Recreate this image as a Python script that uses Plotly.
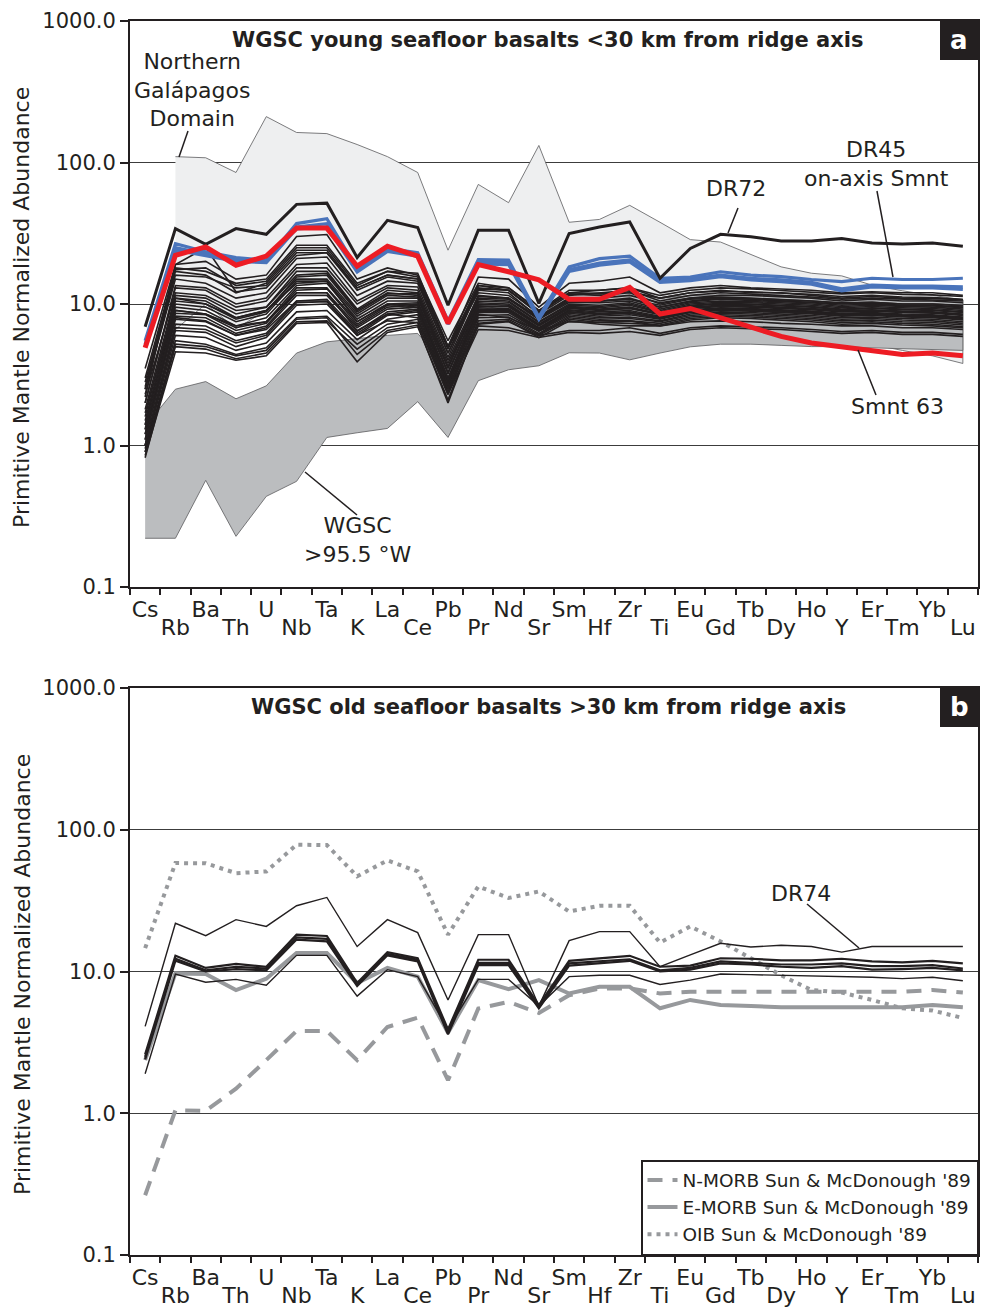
import plotly.graph_objects as go

# ---------------------------------------------------------------------------
# Element order of the spider diagram (incompatible -> compatible)
# ---------------------------------------------------------------------------
elements = ["Cs", "Rb", "Ba", "Th", "U", "Nb", "Ta", "K", "La", "Ce", "Pb", "Pr", "Nd", "Sr",
            "Sm", "Hf", "Zr", "Ti", "Eu", "Gd", "Tb", "Dy", "Ho", "Y", "Er", "Tm", "Yb", "Lu"]

y_tickvals = [0.1, 1, 10, 100, 1000]
y_ticktext = ["0.1", "1.0", "10.0", "100.0", "1000.0"]

# ---------------------------------------------------------------------------
# (a) young seafloor, primitive-mantle normalised
# ---------------------------------------------------------------------------
# Northern Galapagos Domain field (Rb .. Lu)
ngd_upper = [110, 108, 85, 211, 163, 160, 134, 110, 85, 24, 70, 52, 132, 37.8, 39.6, 49.8, 37.8,
             28.5, 27.4, 22.4, 18.3, 16.5, 15.8, 13.6, 12.4, 11.5, 10.7]
ngd_lower = [6.6, 10, 6.7, 9, 14, 14, 8, 10, 9, 4, 8, 8, 7, 8, 8, 8, 7.5,
             8, 8, 7.8, 7.5, 7.2, 5.7, 5.2, 4.7, 4.3, 3.8]

# WGSC > 95.5 W field (Cs .. Lu)
wgsc_w_upper = [1.36, 2.5, 2.83, 2.14, 2.64, 4.5, 5.4, 5.7, 6.0, 6.2, 3.5, 9, 10, 8, 12, 12, 12, 11,
                11.5, 11.6, 11.5, 11.4, 11.2, 11, 11, 10.9, 10.8, 10.7]
wgsc_w_lower = [0.221, 0.221, 0.567, 0.228, 0.437, 0.558, 1.14, 1.23, 1.32, 2.04, 1.14, 2.87, 3.43,
                3.66, 4.52, 4.5, 4.03, 4.5, 4.98, 5.2, 5.2, 5.1, 5.0, 5.0, 4.9, 4.8, 4.75, 4.7]

# individual young-seafloor samples
ysb01 = [3.5, 19, 20, 15, 16, 30, 31, 15, 18, 16, 5.5, 14, 13, 9, 12, 12.5, 13, 11, 12, 12.5, 12, 12, 11.5, 11, 11.3, 11, 11, 10.7]
ysb02 = [3.0, 18, 17, 14, 15, 26, 26, 14, 17, 15.5, 5, 13.5, 12.5, 8.5, 11.5, 12, 12.5, 10.5, 11.5, 12, 11.8, 11.5, 11.2, 10.8, 11, 10.8, 10.7, 10.5]
ysb03 = [2.8, 17, 16, 12, 14, 24, 24, 13, 16, 15, 4.8, 13, 12.5, 8.8, 11.8, 11.5, 12, 10, 11, 11.5, 11.5, 11.3, 11, 10.5, 10.8, 10.5, 10.5, 10.2]
ysb04 = [2.5, 16, 15.5, 13, 13.5, 23, 23, 12.5, 15.5, 14.5, 4.5, 12.5, 12, 8, 11, 11, 11.5, 10.2, 11, 11.2, 11, 10.8, 10.5, 10.2, 10.3, 10, 10, 9.8]
ysb05 = [2.2, 19, 25, 12.2, 13, 22, 23, 13, 16, 15, 5, 12, 11.5, 8.2, 11, 10.5, 11, 9.5, 10.5, 11, 10.8, 10.5, 10.3, 10, 10.1, 9.8, 9.8, 9.5]
ysb06 = [2.0, 13, 12.5, 9.5, 10.5, 18, 18, 10, 13, 12.5, 4, 11.5, 11, 8, 10.5, 10.5, 10.8, 9.5, 10.4, 10.8, 10.6, 10.4, 10.2, 9.8, 10, 9.7, 9.7, 9.4]
ysb07 = [2.3, 12, 11.5, 9, 9.5, 17, 17, 9.2, 12.5, 12, 3.8, 11, 10.8, 7.8, 10.3, 10.2, 10.5, 9.2, 10.2, 10.5, 10.4, 10.2, 10, 9.6, 9.8, 9.6, 9.5, 9.2]
ysb08 = [1.8, 11.5, 11, 8.5, 9.5, 16, 16.5, 9, 12, 11.5, 3.6, 10.8, 10.5, 7.5, 10, 9.8, 10.2, 9, 10, 10.3, 10.2, 10, 9.8, 9.4, 9.6, 9.4, 9.3, 9]
ysb09 = [1.6, 11, 10.5, 8, 9, 15, 15, 8.5, 11.5, 11.2, 3.5, 10.5, 10.3, 7.4, 9.8, 9.6, 10, 8.8, 9.8, 10.1, 10, 9.8, 9.6, 9.2, 9.4, 9.2, 9.1, 8.8]
ysb10 = [1.5, 10, 9.5, 7.5, 8.5, 14.5, 14.5, 8.2, 11, 11, 3.3, 10.2, 10, 7.2, 9.6, 9.4, 9.8, 8.7, 9.7, 10, 9.9, 9.7, 9.5, 9.1, 9.3, 9.1, 9, 8.7]
ysb11 = [1.4, 9.5, 9, 7, 8, 13.5, 14, 7.8, 10.5, 10.5, 3.2, 10, 9.8, 7.1, 9.5, 9.2, 9.5, 8.5, 9.5, 9.8, 9.7, 9.5, 9.3, 9, 9.1, 8.9, 8.8, 8.5]
ysb12 = [1.3, 9, 8.5, 6.8, 7.5, 13, 13, 7.5, 10, 10.2, 3.0, 9.7, 9.6, 7, 9.3, 9, 9.3, 8.4, 9.3, 9.6, 9.5, 9.3, 9.1, 8.8, 8.9, 8.7, 8.6, 8.3]
ysb13 = [1.2, 8.2, 8, 6.2, 7, 12, 12, 7, 9.5, 9.8, 2.9, 9.4, 9.3, 6.8, 9.1, 8.8, 9, 8.2, 9.1, 9.4, 9.3, 9.1, 8.9, 8.6, 8.7, 8.5, 8.4, 8.1]
ysb14 = [1.1, 7.8, 7.5, 6, 6.8, 11.5, 11.5, 6.8, 9.2, 9.5, 2.8, 9.2, 9.1, 6.7, 9, 8.6, 8.8, 8.1, 9, 9.3, 9.2, 9, 8.8, 8.5, 8.6, 8.4, 8.3, 8]
ysb15 = [1.0, 7.2, 7, 5.5, 6.2, 10.5, 10.8, 6.4, 8.8, 9.2, 2.7, 9, 9, 6.6, 8.8, 8.4, 8.6, 8, 8.9, 9.2, 9.1, 8.9, 8.7, 8.4, 8.5, 8.3, 8.2, 7.9]
ysb16 = [1.0, 6.5, 6.3, 5, 5.8, 9.8, 10, 6, 8.3, 8.8, 2.6, 8.7, 8.7, 6.5, 8.6, 8.2, 8.4, 7.8, 8.7, 9, 8.9, 8.7, 8.5, 8.2, 8.3, 8.1, 8, 7.7]
ysb17 = [0.95, 6, 5.8, 4.7, 5.3, 8.8, 9, 5.6, 7.8, 8.4, 2.5, 8.3, 8.4, 6.4, 8.4, 8, 8.1, 7.6, 8.5, 8.8, 8.7, 8.5, 8.3, 8, 8.1, 7.9, 7.8, 7.5]
ysb18 = [0.9, 5.5, 5.2, 4.4, 4.9, 8, 8.2, 5.2, 7.2, 7.8, 2.4, 8, 8.1, 6.2, 8.2, 7.8, 7.9, 7.5, 8.3, 8.6, 8.5, 8.3, 8.1, 7.8, 7.9, 7.7, 7.6, 7.3]
ysb19 = [0.9, 5, 4.8, 4.1, 4.5, 7.5, 7.6, 4.8, 6.8, 7.4, 2.3, 7.6, 7.8, 6.1, 8, 7.6, 7.6, 7.3, 8.1, 8.4, 8.3, 8.1, 7.9, 7.6, 7.7, 7.5, 7.4, 7.1]
ysb20 = [0.85, 4.6, 4.5, 4, 4.3, 7.3, 7.4, 3.9, 6.3, 6.9, 2.1, 7.2, 7.5, 6, 7.8, 7.4, 7.3, 7.1, 7.9, 8.2, 8.1, 7.9, 7.7, 7.4, 7.5, 7.3, 7.2, 6.9]
ysb21 = [1.2, 9, 8.5, 7, 7.5, 12, 12, 6.5, 8.5, 8, 2.5, 7, 6.8, 6, 6.5, 6.5, 6.8, 6.2, 6.8, 7, 6.9, 6.8, 6.6, 6.4, 6.5, 6.3, 6.3, 6.1]
ysb22 = [1.1, 8, 7.6, 6, 6.6, 10.5, 10.5, 6, 7.6, 7.4, 2.3, 6.6, 6.5, 5.8, 6.3, 6.2, 6.4, 6, 6.6, 6.8, 6.7, 6.6, 6.4, 6.2, 6.3, 6.1, 6.1, 5.9]
ysb23 = [1.4, 11, 10, 8, 9, 14, 14.5, 7.5, 10, 9.5, 3, 8.5, 8, 6.5, 7.5, 7.4, 7.6, 7, 7.5, 7.6, 7.5, 7.3, 7.2, 7, 7, 6.8, 6.8, 6.6]
ysb24 = [2.5, 15, 14, 11, 12, 21, 21.5, 11.5, 14.5, 14, 4.5, 13.5, 13, 9, 12.5, 12.5, 13, 11.5, 12.5, 13, 12.8, 12.5, 12.2, 11.8, 12, 11.7, 11.6, 11.3]
ysb25 = [2.0, 13.5, 13, 10, 11, 19, 19.5, 10.5, 13.5, 13.2, 4.2, 12.8, 12.5, 8.6, 12, 11.8, 12.2, 11, 12, 12.3, 12.2, 12, 11.7, 11.3, 11.5, 11.2, 11.1, 10.8]
ysb26 = [1.7, 10.5, 10, 7.8, 8.8, 15.5, 16, 8.8, 11.8, 11.8, 3.6, 11.3, 11, 7.8, 10.8, 10.5, 10.8, 9.8, 10.8, 11, 10.9, 10.7, 10.5, 10.1, 10.3, 10, 10, 9.7]
ysb27 = [2.6, 17.5, 18, 13.5, 14.5, 25, 25, 13.5, 17, 16.5, 5, 15.5, 15, 9.5, 14, 14.5, 15.5, 12, 13, 13.5, 13, 12.8, 12.5, 12, 12.2, 12, 12, 11.5]
ysb28 = [1.3, 8.6, 8.4, 6.5, 7.3, 12.5, 12.8, 7.2, 9.8, 10, 2.9, 9.6, 9.6, 7, 9.4, 9.1, 9.3, 8.6, 9.4, 9.7, 9.6, 9.4, 9.2, 8.9, 9, 8.8, 8.7, 8.4]
ysb29 = [1.0, 6.8, 6.6, 5.3, 6, 10.2, 10.4, 6.2, 8.5, 9, 2.7, 8.9, 8.9, 6.6, 8.8, 8.5, 8.6, 7.9, 8.8, 9.1, 9, 8.8, 8.6, 8.3, 8.4, 8.2, 8.1, 7.8]
ysb30 = [0.82, 5.2, 5, 4.3, 4.7, 7.8, 8, 4.4, 6.5, 7.1, 2.0, 7.3, 7.6, 5.8, 7.6, 7.2, 7, 7, 7.7, 8, 7.9, 7.7, 7.5, 7.2, 7.3, 7.1, 7, 6.8]
young_seafloor = [ysb01, ysb02, ysb03, ysb04, ysb05, ysb06, ysb07, ysb08, ysb09, ysb10,
                  ysb11, ysb12, ysb13, ysb14, ysb15, ysb16, ysb17, ysb18, ysb19, ysb20,
                  ysb21, ysb22, ysb23, ysb24, ysb25, ysb26, ysb27, ysb28, ysb29, ysb30]

# DR45 on-axis seamount
dr45_1 = [5.5, 26.7, 23.4, 21.3, 20.4, 37, 40.1, 17.8, 24.7, 23, 7.6, 20.6, 20.4, 8.1, 18.3, 20.9, 21.8, 15.2, 15.5, 16.9, 16.0, 15.6, 14.9, 14.4, 15.2, 14.9, 14.9, 15.2]
dr45_2 = [5.2, 25, 22.5, 20.5, 20, 35, 37, 17.2, 24, 22.2, 7.4, 19.8, 19.6, 7.9, 17.5, 19.5, 20.5, 14.6, 15, 16, 15.2, 14.8, 14.2, 12.8, 13.6, 13.4, 13.4, 13.2]
dr45_3 = [5.0, 24, 22, 20, 19.6, 34, 35, 16.8, 23.5, 21.8, 7.2, 19.2, 19, 7.8, 17, 18.8, 19.8, 14.2, 14.6, 15.6, 14.8, 14.4, 13.8, 12.4, 13.2, 13.0, 13.0, 12.7]

# DR72
dr72 = [6.9, 34.1, 26.4, 34.1, 31.1, 50.6, 51.6, 21.3, 39, 34.7, 9.8, 33.2, 33.2, 10.1, 31.5, 35, 38, 15.2, 24.7, 31.1, 29.9, 27.9, 27.9, 29, 27, 26.5, 27, 25.6]

# Seamount 63
smnt63 = [4.9, 22.1, 25.3, 18.8, 21.8, 34.4, 34.4, 18.5, 25.6, 21.8, 7.3, 19.0, 16.9, 14.8, 10.8, 10.8, 13.1, 8.5, 9.3, 8.0, 6.9, 5.9, 5.3, 5.0, 4.75, 4.4, 4.5, 4.3]

# ---------------------------------------------------------------------------
# (b) old seafloor, primitive-mantle normalised
# ---------------------------------------------------------------------------
dr74 = [4.1, 21.9, 17.9, 23.2, 20.8, 29.1, 33.3, 15.0, 23.2, 18.8, 6.3, 18.2, 18.2, 5.7, 16.5, 19.1, 19.1, 10.8, 13.1, 15.8, 14.9, 15.3, 15.0, 13.7, 15.0, 15.0, 15.0, 15.0]
osb_1 = [2.6, 12.9, 10.6, 11.3, 10.8, 18.2, 17.8, 8.3, 13.7, 12.4, 3.9, 12.1, 12.1, 5.8, 11.9, 12.4, 12.9, 10.8, 11.0, 12.4, 12.3, 12.0, 12.0, 12.3, 11.8, 11.6, 11.9, 11.4]
osb_2 = [2.5, 12.3, 10.2, 10.8, 10.5, 17.4, 17.0, 8.1, 13.3, 12.1, 3.7, 11.5, 11.5, 5.6, 11.4, 11.8, 12.2, 10.2, 10.6, 11.8, 11.5, 11.2, 11.2, 11.4, 10.9, 10.9, 11.1, 10.5]
osb_3 = [2.4, 11.9, 10.0, 10.4, 10.2, 16.8, 16.3, 7.9, 13.0, 11.8, 3.6, 11.1, 11.1, 5.5, 11.0, 11.5, 11.9, 10.0, 10.3, 11.4, 11.2, 10.8, 10.6, 10.9, 10.3, 10.4, 10.6, 10.2]
osb_4 = [1.9, 9.6, 8.4, 8.8, 8.0, 13.0, 13.0, 6.7, 10.3, 9.2, 3.9, 8.8, 8.8, 5.7, 9.2, 9.4, 9.4, 8.1, 8.7, 9.6, 9.5, 9.4, 9.4, 9.3, 9.1, 8.9, 9.1, 8.6]

# Sun & McDonough (1989) reference basalts
n_morb = [0.264, 1.05, 1.04, 1.49, 2.37, 3.81, 3.81, 2.37, 4.06, 4.73, 1.71, 5.48, 6.1, 5.1, 6.8, 7.6, 7.6, 7.0, 7.2, 7.2, 7.2, 7.2, 7.2, 7.2, 7.1, 7.2, 7.4, 7.1]
e_morb = [2.37, 9.7, 9.6, 7.4, 8.9, 13.5, 13.5, 8.3, 10.6, 9.2, 3.7, 8.7, 7.5, 8.7, 7.0, 7.8, 7.8, 5.5, 6.3, 5.8, 5.7, 5.6, 5.6, 5.6, 5.6, 5.6, 5.8, 5.6]
oib = [14.6, 58.2, 58, 49.4, 50.8, 78.4, 78, 46.9, 60.8, 50.8, 18.2, 39.8, 33, 36.7, 26.5, 29.1, 29.1, 16, 20.8, 16.3, 12.4, 9.4, 7.4, 7.1, 6.3, 5.5, 5.3, 4.7]

# ---------------------------------------------------------------------------
# Figure geometry and styles
# ---------------------------------------------------------------------------
W, H = 985, 1309
ML, MR, MT, MB = 130, 7, 21, 54
PW, PH = W - ML - MR, H - MT - MB

FONT = "DejaVu Sans"
INK = "#231f20"
GREY = "#97999c"
RED = "#ed1c24"
BLUE = "#4a74bb"


def fx(px):
    """pixel column -> paper x"""
    return (px - ML) / PW


def fy(py):
    """pixel row -> paper y"""
    return (H - MB - py) / PH


fig = go.Figure()


def add_field(cats, upper, lower, fill, xa, ya):
    fig.add_trace(go.Scatter(
        x=list(cats) + list(cats)[::-1], y=list(upper) + list(lower)[::-1],
        mode="lines", fill="toself", fillcolor=fill,
        line=dict(color="#5a5b5d", width=0.8),
        xaxis=xa, yaxis=ya, showlegend=False, hoverinfo="skip"))


def add_line(vals, color, width, xa, ya, dash="solid", name=None, legend=False):
    fig.add_trace(go.Scatter(
        x=elements, y=vals, mode="lines", name=name,
        line=dict(color=color, width=width, dash=dash),
        xaxis=xa, yaxis=ya, showlegend=legend, hoverinfo="skip"))


# ---- panel a ----
add_field(elements[1:], ngd_upper, ngd_lower, "#eeeff0", "x", "y")
add_field(elements, wgsc_w_upper, wgsc_w_lower, "#bbbdbf", "x", "y")
for s in young_seafloor:
    add_line(s, INK, 1.6, "x", "y")
for s in (dr45_3, dr45_2, dr45_1):
    add_line(s, BLUE, 3.2, "x", "y")
add_line(dr72, INK, 3.0, "x", "y")
add_line(smnt63, RED, 5, "x", "y")

# ---- panel b ----
add_line(n_morb, GREY, 4, "x2", "y2", dash="15px,10px", name="N-MORB Sun & McDonough '89", legend=True)
add_line(e_morb, GREY, 4, "x2", "y2", name="E-MORB Sun & McDonough '89", legend=True)
add_line(oib, GREY, 4, "x2", "y2", dash="4px,5px", name="OIB Sun & McDonough '89", legend=True)
add_line(dr74, INK, 1.4, "x2", "y2")
add_line(osb_4, INK, 1.4, "x2", "y2")
for s in (osb_3, osb_2, osb_1):
    add_line(s, INK, 2.2, "x2", "y2")

# empty carriers so the second row of element labels gets drawn
for xa, ya in (("x3", "y"), ("x4", "y2")):
    fig.add_trace(go.Scatter(x=elements, y=[None] * len(elements), mode="lines",
                             xaxis=xa, yaxis=ya, showlegend=False, hoverinfo="skip"))

# ---------------------------------------------------------------------------
# Axes
# ---------------------------------------------------------------------------
even_text = [e if i % 2 == 0 else "" for i, e in enumerate(elements)]
odd_vals = [e for i, e in enumerate(elements) if i % 2 == 1]

xbase = dict(type="category", categoryorder="array", categoryarray=elements,
             range=[-0.5, len(elements) - 0.5], showgrid=False, zeroline=False,
             tickangle=0, automargin=False,
             tickfont=dict(family=FONT, size=22, color=INK))
xmain = dict(xbase, tickvals=elements, ticktext=even_text, ticks="outside",
             tickson="boundaries", ticklen=6, tickwidth=1.5, tickcolor=INK,
             showline=True, linecolor=INK, linewidth=2, mirror=True,
             ticklabelstandoff=2)
xodd = dict(xbase, tickvals=odd_vals, ticktext=odd_vals, ticks="outside", ticklen=6,
            tickcolor="rgba(0,0,0,0)", showline=False, ticklabelstandoff=15)
ybase = dict(type="log", range=[-1, 3], tickvals=y_tickvals, ticktext=y_ticktext,
             ticks="outside", ticklen=8, tickwidth=1.5, tickcolor=INK,
             showgrid=True, gridcolor="#3c3c3c", gridwidth=1.3, zeroline=False,
             showline=True, linecolor=INK, linewidth=2, mirror=True, automargin=False,
             tickfont=dict(family=FONT, size=21, color=INK))

fig.update_layout(
    width=W, height=H,
    margin=dict(l=ML, r=MR, t=MT, b=MB, pad=0, autoexpand=False),
    paper_bgcolor="white", plot_bgcolor="white",
    font=dict(family=FONT, color=INK),
    xaxis=dict(xmain, anchor="y"),
    xaxis2=dict(xmain, anchor="y2"),
    xaxis3=dict(xodd, anchor="y", overlaying="x"),
    xaxis4=dict(xodd, anchor="y2", overlaying="x2"),
    yaxis=dict(ybase, domain=[fy(587), 1], anchor="x"),
    yaxis2=dict(ybase, domain=[0, fy(688)], anchor="x2"),
    legend=dict(x=1, xanchor="right", y=0, yanchor="bottom",
                bgcolor="white", bordercolor=INK, borderwidth=1.5,
                font=dict(family=FONT, size=18.5, color=INK),
                tracegroupgap=0, itemwidth=30),
    hovermode=False,
)

# ---------------------------------------------------------------------------
# Titles, panel tags, labels and leader lines
# ---------------------------------------------------------------------------
ann = []
shapes = []


def text(px, py, s, size=22, bold=False, color=INK, family=FONT):
    ann.append(dict(x=fx(px), y=fy(py), xref="paper", yref="paper", text=s,
                    showarrow=False, xanchor="center", yanchor="middle",
                    font=dict(family=family, size=size, color=color)))


def leader(x0, y0, x1, y1):
    shapes.append(dict(type="line", xref="paper", yref="paper",
                       x0=fx(x0), y0=fy(y0), x1=fx(x1), y1=fy(y1),
                       line=dict(color=INK, width=1.5)))


def tag(y_top, letter):
    shapes.append(dict(type="rect", xref="paper", yref="paper",
                       x0=fx(940), x1=fx(978), y0=fy(y_top + 39), y1=fy(y_top),
                       fillcolor=INK, line=dict(width=0), layer="above"))
    text(959, y_top + 19, "<b>%s</b>" % letter, size=26, color="white")


text(548, 40, "<b>WGSC young seafloor basalts &lt;30 km from ridge axis</b>", size=21)
text(548, 707, "<b>WGSC old seafloor basalts &gt;30 km from ridge axis</b>", size=21)
tag(21, "a")
tag(688, "b")

# y-axis titles
for yc in (308, 975):
    ann.append(dict(x=fx(22), y=fy(yc), xref="paper", yref="paper",
                    text="Primitive Mantle Normalized Abundance", textangle=-90,
                    showarrow=False, xanchor="center", yanchor="middle",
                    font=dict(family=FONT, size=22, color=INK)))

text(192, 90, "Northern<br>Galápagos<br>Domain")
leader(188, 131, 179, 157)
text(736, 189, "DR72")
leader(738, 208, 728, 233)
text(876, 164, "DR45<br>on-axis Smnt")
leader(877, 191, 893, 277)
text(897, 406, "Smnt 63")
leader(876, 395, 858, 350)
text(357, 540, "WGSC<br>&gt;95.5 °W")
leader(357, 515, 305, 472)
text(801, 893, "DR74")
leader(807, 904, 859, 948)

fig.update_layout(annotations=ann, shapes=shapes)

fig.write_html("out.html")
